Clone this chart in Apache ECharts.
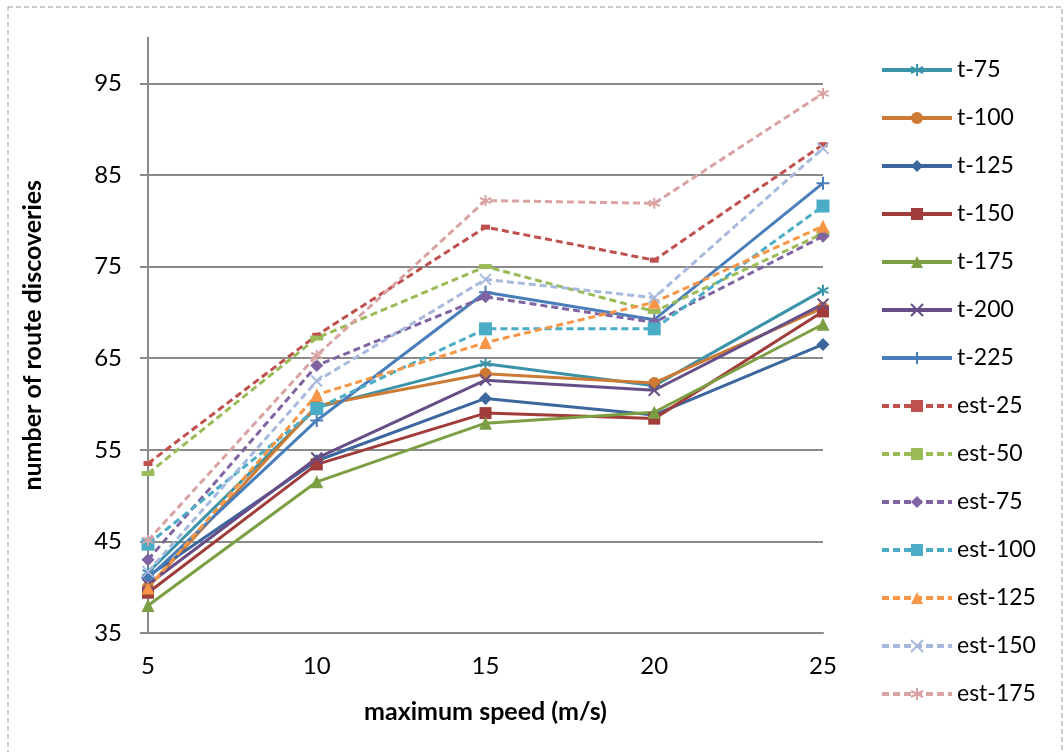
<!DOCTYPE html>
<html>
<head>
<meta charset="utf-8">
<script src="https://cdn.jsdelivr.net/npm/echarts@6/dist/echarts.min.js"></script>
<style>html,body{margin:0;padding:0;background:#fff}#c{width:1064px;height:752px}</style>
</head>
<body>
<div id="c"></div>
<script>
const speeds = ['5', '10', '15', '20', '25'];
const yTicks = [35, 45, 55, 65, 75, 85, 95];

const t75  = [41.6, 59.6, 64.4, 62.0, 72.4];
const t100 = [40.0, 59.8, 63.3, 62.3, 70.5];
const t125 = [41.2, 53.8, 60.6, 58.8, 66.5];
const t150 = [39.4, 53.4, 59.0, 58.4, 70.1];
const t175 = [38.0, 51.5, 57.9, 59.1, 68.7];
const t200 = [40.3, 54.1, 62.6, 61.5, 70.9];
const t225 = [41.0, 58.2, 72.2, 69.2, 84.1];
const est25  = [53.5, 67.5, 79.3, 75.7, 88.3];
const est50  = [52.4, 67.2, 75.0, 70.1, 78.6];
const est75  = [43.0, 64.2, 71.7, 68.9, 78.3];
const est100 = [44.7, 59.5, 68.2, 68.2, 81.6];
const est125 = [39.9, 61.0, 66.7, 71.1, 79.4];
const est150 = [41.7, 62.5, 73.6, 71.6, 87.9];
const est175 = [45.1, 65.3, 82.2, 81.9, 93.9];

const STAR = 'path://M5,0L5,10M0.7,2.5L9.3,7.5M0.7,7.5L9.3,2.5';
const XMARK = 'path://M0,0L10,10M10,0L0,10';
const PLUS = 'path://M5,0L5,10M0,5L10,5';

function mk(name, data, color, symbol, size, dashed, stroke) {
  return {
    name, type: 'line', data,
    symbol, symbolSize: size,
    showAllSymbol: true,
    lineStyle: { color, width: 3, type: dashed ? [7, 4] : 'solid' },
    itemStyle: stroke ? { color, borderColor: color, borderWidth: 2 } : { color, borderWidth: 0 },
    emphasis: { disabled: true },
    animation: false
  };
}

const series = [
  mk('t-75', t75, '#3A93A8', STAR, 11, false, true),
  mk('t-100', t100, '#CC7A34', 'circle', 12, false, false),
  mk('t-125', t125, '#3B679E', 'diamond', 13, false, false),
  mk('t-150', t150, '#A03C39', 'rect', 12, false, false),
  mk('t-175', t175, '#7D9F43', 'triangle', 13, false, false),
  mk('t-200', t200, '#674E86', XMARK, 11, false, true),
  mk('t-225', t225, '#4A7EBB', PLUS, 13, false, true),
  mk('est-25', est25, '#C0504D', 'rect', [9, 5], true, false),
  mk('est-50', est50, '#9BBB59', 'rect', [13, 5], true, false),
  mk('est-75', est75, '#8064A2', 'diamond', 13, true, false),
  mk('est-100', est100, '#4BACC6', 'rect', 13, true, false),
  mk('est-125', est125, '#F79646', 'triangle', 13, true, false),
  mk('est-150', est150, '#A7B9DC', XMARK, 11, true, true),
  mk('est-175', est175, '#D9A3A3', STAR, 11, true, true)
];

const chart = echarts.init(document.getElementById('c'), null, { renderer: 'canvas' });
chart.setOption({
  animation: false,
  backgroundColor: '#fff',
  textStyle: { fontFamily: 'Lato' },
  graphic: [{
    type: 'rect', silent: true,
    shape: { x: 8, y: 7, width: 1054, height: 760 },
    style: { fill: 'none', stroke: '#9a9a9a', lineWidth: 1, lineDash: [5, 3] }
  }],
  grid: { left: 148, right: 241, top: 37.5, bottom: 119, containLabel: false },
  legend: {
    orient: 'vertical', left: 880, top: 58, padding: 0,
    itemWidth: 70, itemHeight: 15, itemGap: 24,
    lineStyle: { width: 4 },
    textStyle: { fontSize: 23, lineHeight: 24, color: '#000', fontFamily: 'Lato' },
    data: series.map(s => s.name)
  },
  xAxis: {
    type: 'category', data: speeds, boundaryGap: false,
    name: 'maximum speed (m/s)', nameLocation: 'middle', nameGap: 66,
    nameTextStyle: { fontSize: 25, fontWeight: 'bold', color: '#000', fontFamily: 'Lato' },
    axisLine: { lineStyle: { color: '#8a8a8a', width: 2 } },
    axisTick: { show: false },
    axisLabel: { fontSize: 24, color: '#000', margin: 21, fontFamily: 'Lato' },
    splitLine: { show: false }
  },
  yAxis: {
    type: 'value', min: 35, max: 100, interval: 10,
    name: 'number of route discoveries', nameLocation: 'middle', nameGap: 103, nameRotate: 90,
    nameTextStyle: { fontSize: 25, fontWeight: 'bold', color: '#000', fontFamily: 'Lato' },
    axisLine: { show: true, lineStyle: { color: '#8a8a8a', width: 2 } },
    axisTick: { show: true, length: 8, inside: false, lineStyle: { color: '#8a8a8a', width: 2 }, customValues: yTicks },
    axisLabel: { fontSize: 24, color: '#000', margin: 26, fontFamily: 'Lato', customValues: yTicks },
    splitLine: { show: true, lineStyle: { color: '#8a8a8a', width: 2 } }
  },
  series
});
</script>
</body>
</html>
